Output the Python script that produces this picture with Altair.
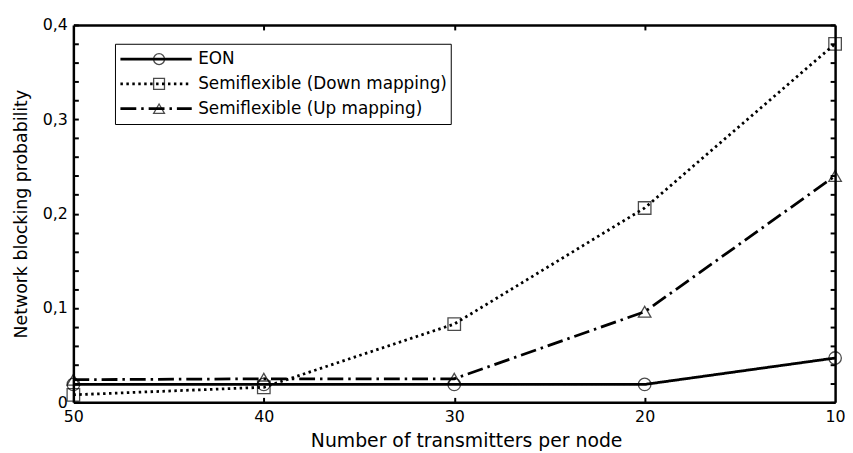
import altair as alt
import pandas as pd

# ---- data ----
transmitters = [50, 40, 30, 20, 10]
series_names = ["EON", "Semiflexible (Down mapping)", "Semiflexible (Up mapping)"]
eon = [0.019, 0.019, 0.019, 0.019, 0.047]
down_mapping = [0.008, 0.016, 0.083, 0.206, 0.380]
up_mapping = [0.024, 0.025, 0.025, 0.096, 0.240]
y_label_values = [0, 0.1, 0.2, 0.3, 0.4]
y_tick_values = [round(i * 0.02, 2) for i in range(21)]
x_label_values = [50, 40, 30, 20, 10]
x_tick_values = [40, 30, 20]

marker_names = [n + " " for n in series_names]  # separate key so the two legends stay apart

rows = []
for name, mname, vals in zip(series_names, marker_names, [eon, down_mapping, up_mapping]):
    for xv, yv in zip(transmitters, vals):
        rows.append({"x": xv, "y": yv, "series": name, "marker": mname})
df = pd.DataFrame(rows)

W, H = 769, 381
FONT = "DejaVu Sans"
FRAME = 2.5

xs = alt.Scale(domain=[10, 50], reverse=True, nice=False, zero=False)
ys = alt.Scale(domain=[0, 0.4], nice=False, zero=True)

x_bottom = alt.Axis(values=x_label_values, ticks=False, domain=True, domainColor="black",
                    domainWidth=FRAME, grid=False,
                    labelFlush=False, labelFontSize=16, labelFont=FONT, labelColor="black",
                    labelPadding=6, title="Number of transmitters per node",
                    titleFontSize=19, titleFont=FONT, titleFontWeight="normal",
                    titleColor="black", titlePadding=8, titleX=W / 2 + 12)
y_left = alt.Axis(values=y_label_values, ticks=False, domain=True, domainColor="black",
                  domainWidth=FRAME, grid=False,
                  labelFontSize=16, labelFont=FONT, labelColor="black", labelPadding=6,
                  labelExpr="datum.value == 0 ? '0' : replace(format(datum.value, '.1f'), '.', ',')",
                  title="Network blocking probability", titleFontSize=17.5, titleFont=FONT,
                  titleFontWeight="normal", titleColor="black", titlePadding=12)

top_ticks = alt.Axis(orient="bottom", offset=-H, values=x_tick_values, ticks=True, tickSize=5,
                     tickWidth=2, tickColor="black", labels=False, domain=True,
                     domainColor="black", domainWidth=FRAME, grid=False, title=None)
bottom_ticks = alt.Axis(orient="top", offset=-H, values=x_tick_values, ticks=True, tickSize=5,
                        tickWidth=2, tickColor="black", labels=False, domain=False, grid=False, title=None)
left_ticks = alt.Axis(orient="right", offset=-W, values=y_tick_values, ticks=True, tickSize=5,
                      tickWidth=2, tickColor="black", labels=False, domain=False, grid=False, title=None)
right_ticks = alt.Axis(orient="left", offset=-W, values=y_tick_values, ticks=True, tickSize=5,
                       tickWidth=2, tickColor="black", labels=False, domain=True,
                       domainColor="black", domainWidth=FRAME, grid=False, title=None)

LX, LY = 42, 19

lines = alt.Chart(df).mark_line(color="black", strokeWidth=2.8).encode(
    x=alt.X("x:Q", scale=xs, axis=x_bottom),
    y=alt.Y("y:Q", scale=ys, axis=y_left),
    strokeDash=alt.StrokeDash(
        "series:N",
        scale=alt.Scale(domain=series_names, range=[[1, 0], [2.5, 3.5], [16, 5, 2.5, 5]]),
        legend=alt.Legend(orient="none", legendX=LX, legendY=LY, title=None,
                          strokeColor="black", padding=3, symbolType="stroke",
                          symbolSize=5184, symbolStrokeWidth=2.8, symbolStrokeColor="black",
                          clipHeight=25, rowPadding=0, labelFontSize=17, labelFont=FONT,
                          labelColor="black", labelOffset=5, symbolOffset=1, labelLimit=400),
    ),
)

points = alt.Chart(df).mark_point(color="black", filled=False, size=160, strokeWidth=1.3).encode(
    x=alt.X("x:Q", scale=xs, axis=top_ticks),
    y=alt.Y("y:Q", scale=ys, axis=left_ticks),
    shape=alt.Shape(
        "marker:N",
        scale=alt.Scale(domain=marker_names, range=["circle", "square", "triangle-up"]),
        legend=alt.Legend(orient="none", legendX=LX, legendY=LY, title=None,
                          padding=3, symbolSize=120, symbolStrokeWidth=1.3,
                          symbolStrokeColor="black", symbolFillColor="transparent",
                          clipHeight=25, rowPadding=0, labelFontSize=17, labelFont=FONT,
                          labelExpr="''", symbolOffset=33),
    ),
)

ghost = alt.Chart(df).mark_point(opacity=0).encode(
    x=alt.X("x:Q", scale=xs, axis=bottom_ticks),
    y=alt.Y("y:Q", scale=ys, axis=right_ticks),
)

chart = (
    alt.layer(lines, points, ghost)
    .resolve_axis(x="independent", y="independent")
    .properties(width=W, height=H, autosize=alt.AutoSizeParams(type="none"),
                padding={"left": 66, "top": 15, "right": 10, "bottom": 49})
    .configure_view(stroke=None)
    .configure_legend(strokeWidth=2)
    .configure(background="white")
)

chart.save("out.html", embed_options={"renderer": "svg", "actions": False})
